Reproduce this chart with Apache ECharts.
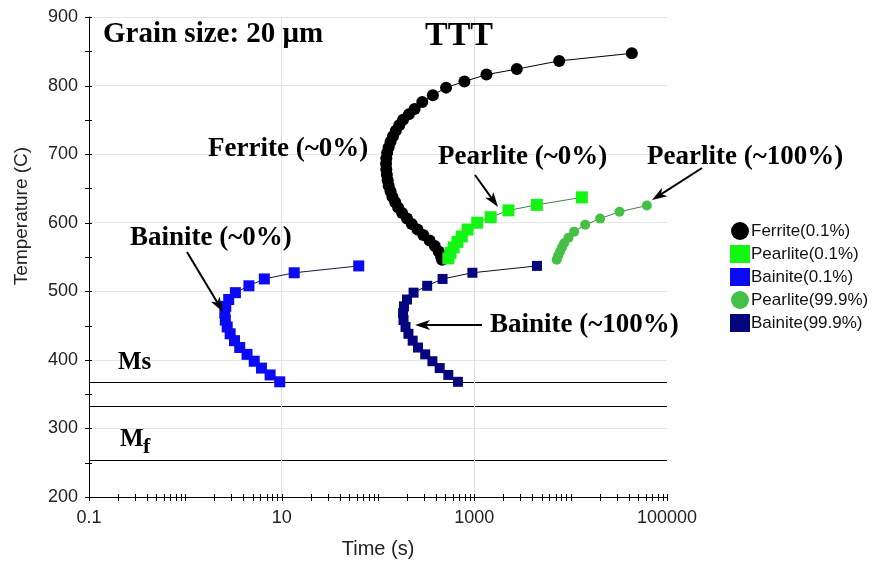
<!DOCTYPE html>
<html lang="en">
<head>
    <meta charset="utf-8">
    <title>TTT</title>
    <script src="https://cdn.jsdelivr.net/npm/echarts@6/dist/echarts.min.js"></script>
    <style>
        html, body { margin: 0; padding: 0; background: #fff; }
        #main { width: 877px; height: 564px; }
    </style>
</head>
<body>
<div id="main"></div>
<script>
    // times in s, temperatures in C
    var ferriteTime = [43150, 7600, 2760, 1337, 789, 509, 371, 288, 240, 209, 182, 166, 153, 143, 135, 129, 124.5,
        122, 121.3, 122, 123.6, 126, 129, 135, 141, 151, 162, 178, 200, 224, 257, 295, 343, 389, 427, 452, 462];
    var ferriteTemp = [847, 836, 824, 816, 806, 797, 786, 776, 766, 758, 750, 742, 734, 726, 718, 710, 702,
        694, 686, 678, 670, 662, 654, 646, 638, 630, 622, 614, 606, 598, 590, 582, 574, 566, 558, 550, 546];

    var pearlite1Time = [537, 566, 610, 668, 741, 851, 1072, 1479, 2259, 4457, 13060];
    var pearlite1Temp = [548, 556, 564, 572, 580, 590, 600, 608, 618, 626, 637];

    var bainite1Time = [9.55, 7.59, 6.17, 5.19, 4.37, 3.67, 3.24, 2.92, 2.72, 2.60, 2.57, 2.63, 2.82, 3.31, 4.57, 6.61, 13.5, 63.1];
    var bainite1Temp = [368, 378, 388, 398, 408, 418, 428, 438, 448, 458, 468, 478, 488, 498, 508, 518, 527, 537];

    var pearlite99Time = [7161, 7413, 7762, 8128, 8551, 9484, 10864, 14158, 20230, 32140, 61800];
    var pearlite99Temp = [546, 552, 558, 564, 570, 578, 587, 597, 606, 616, 625];

    var bainite99Time = [676, 537, 437, 367, 309, 260, 229, 207, 193, 184, 182, 186, 200, 234, 324, 468, 955, 4467];
    var bainite99Temp = [368, 378, 388, 398, 408, 418, 428, 438, 448, 458, 468, 478, 488, 498, 508, 518, 527, 537];

    var msLines = [368, 333, 254];     // Ms / Mf lines
    var gridX = [10, 1000];            // vertical grid lines
    var xTickLabels = ['0.1', '', '10', '', '1000', '', '100000'];

    function pairs(t, T) {
        var out = [];
        for (var i = 0; i < t.length; i++) out.push([t[i], T[i]]);
        return out;
    }

    // tick positions for the crossing tick marks
    var xTickValues = [];
    for (var e = -1; e < 5; e++) {
        for (var m = 1; m < 10; m++) xTickValues.push(Number((m * Math.pow(10, e)).toPrecision(3)));
    }
    xTickValues.push(100000);
    var yTickValues = [];
    for (var y = 200; y <= 900; y += 50) yTickValues.push(y);

    function arrow(x1, y1, x2, y2) {
        var a = Math.atan2(y2 - y1, x2 - x1), L = 15, W = 5;
        var c = Math.cos(a), s = Math.sin(a);
        var bx = x2 - L * c, by = y2 - L * s;
        var nx = -s, ny = c;
        return [
            { type: 'line', z: 100, shape: { x1: x1, y1: y1, x2: bx + 4 * c, y2: by + 4 * s }, style: { stroke: '#000', lineWidth: 2 } },
            { type: 'polygon', z: 100, shape: { points: [[x2, y2], [bx + nx * W, by + ny * W], [bx + 4 * c, by + 4 * s], [bx - nx * W, by - ny * W]] }, style: { fill: '#000' } }
        ];
    }

    var serifBold = 'bold 27px "Liberation Serif", "Times New Roman", serif';
    var graphics = [
        { type: 'text', z: 100, x: 103, y: 35, style: { text: 'Grain size: 20 μm', font: 'bold 29px "Liberation Serif"', fill: '#000', verticalAlign: 'middle' } },
        { type: 'text', z: 100, x: 459, y: 36, style: { text: 'TTT', font: 'bold 34px "Liberation Serif"', fill: '#000', align: 'center', verticalAlign: 'middle' } },
        { type: 'text', z: 100, x: 208, y: 149, style: { text: 'Ferrite (~0%)', font: serifBold, fill: '#000', verticalAlign: 'middle' } },
        { type: 'text', z: 100, x: 438, y: 157, style: { text: 'Pearlite (~0%)', font: serifBold, fill: '#000', verticalAlign: 'middle' } },
        { type: 'text', z: 100, x: 647, y: 157, style: { text: 'Pearlite (~100%)', font: serifBold, fill: '#000', verticalAlign: 'middle' } },
        { type: 'text', z: 100, x: 130, y: 238, style: { text: 'Bainite (~0%)', font: serifBold, fill: '#000', verticalAlign: 'middle' } },
        { type: 'text', z: 100, x: 490, y: 325, style: { text: 'Bainite (~100%)', font: serifBold, fill: '#000', verticalAlign: 'middle' } },
        { type: 'text', z: 100, x: 118, y: 363, style: { text: 'Ms', font: 'bold 25px "Liberation Serif"', fill: '#000', verticalAlign: 'middle' } },
        { type: 'text', z: 100, x: 120, y: 440, style: { text: 'M', font: 'bold 25px "Liberation Serif"', fill: '#000', verticalAlign: 'middle' } },
        { type: 'text', z: 100, x: 143, y: 447, style: { text: 'f', font: 'bold 22px "Liberation Serif"', fill: '#000', verticalAlign: 'middle' } },
        { type: 'text', z: 100, x: 22, y: 216, rotation: Math.PI / 2, style: { text: 'Temperature (C)', font: '19px "Liberation Sans"', fill: '#222', align: 'center', verticalAlign: 'middle' } }
    ];
    graphics = graphics.concat(arrow(187, 252, 223, 312));
    graphics = graphics.concat(arrow(482, 325, 415, 325));
    graphics = graphics.concat(arrow(475, 175, 498, 207));
    graphics = graphics.concat(arrow(702, 168, 652, 200));

    var myChart = echarts.init(document.getElementById('main'));

    var option = {
        animation: false,
        backgroundColor: '#fff',
        grid: { left: 89, right: 210, top: 17, bottom: 63 },
        legend: {
            orient: 'vertical',
            left: 730,
            top: 222,
            padding: 0,
            itemWidth: 20,
            itemHeight: 18,
            itemGap: 5,
            textStyle: { fontSize: 17, color: '#111', fontFamily: 'Liberation Sans', padding: [0, 0, 0, -4] },
            data: [
                { name: 'Ferrite(0.1%)', icon: 'circle' },
                { name: 'Pearlite(0.1%)', icon: 'rect' },
                { name: 'Bainite(0.1%)', icon: 'rect' },
                { name: 'Pearlite(99.9%)', icon: 'circle' },
                { name: 'Bainite(99.9%)', icon: 'rect' }
            ]
        },
        xAxis: {
            type: 'log',
            logBase: 10,
            min: 0.1,
            max: 100000,
            splitNumber: 6,
            name: 'Time (s)',
            nameLocation: 'middle',
            nameGap: 42,
            nameTextStyle: { fontSize: 20, color: '#222', fontFamily: 'Liberation Sans' },
            axisLine: { lineStyle: { color: '#000', width: 1 } },
            axisTick: { show: false },
            splitLine: { show: false },
            axisLabel: {
                margin: 12,
                fontSize: 18,
                color: '#222',
                fontFamily: 'Liberation Sans',
                formatter: function (v) {
                    var k = Math.round(Math.log(v) / Math.LN10) + 1;
                    return xTickLabels[k] || '';
                }
            }
        },
        yAxis: {
            type: 'value',
            min: 200,
            max: 900,
            interval: 100,
            axisLine: { show: true, lineStyle: { color: '#000', width: 1 } },
            axisTick: { show: false },
            splitLine: { lineStyle: { color: '#e6e6e6' } },
            axisLabel: { margin: 11, fontSize: 18, color: '#222', fontFamily: 'Liberation Sans' }
        },
        graphic: graphics,
        series: [
            {
                // reference lines: Ms, Mf and the two vertical grid lines
                type: 'line', name: 'refs', data: [], z: 1, silent: true,
                markLine: {
                    z: 1,
                    symbol: 'none', silent: true, animation: false,
                    label: { show: false },
                    data: msLines.map(function (v) { return { yAxis: v, lineStyle: { color: '#000', width: 1, type: 'solid' } }; })
                        .concat(gridX.map(function (v) { return { xAxis: v, lineStyle: { color: '#e0e0e0', width: 1, type: 'solid' } }; }))
                }
            },
            {
                name: 'Ferrite(0.1%)', type: 'line', data: pairs(ferriteTime, ferriteTemp),
                symbol: 'circle', symbolSize: 12,
                itemStyle: { color: '#000' }, lineStyle: { color: '#000', width: 1 }
            },
            {
                name: 'Pearlite(0.1%)', type: 'line', data: pairs(pearlite1Time, pearlite1Temp),
                symbol: 'rect', symbolSize: 12,
                itemStyle: { color: '#14f514' }, lineStyle: { color: '#4d7a4d', width: 1 }
            },
            {
                name: 'Bainite(0.1%)', type: 'line', data: pairs(bainite1Time, bainite1Temp),
                symbol: 'rect', symbolSize: 11,
                itemStyle: { color: '#0a0af5' }, lineStyle: { color: '#1a1a3a', width: 1 }
            },
            {
                name: 'Pearlite(99.9%)', type: 'line', data: pairs(pearlite99Time, pearlite99Temp),
                symbol: 'circle', symbolSize: 10,
                itemStyle: { color: '#44c044' }, lineStyle: { color: '#4d7a4d', width: 1 }
            },
            {
                name: 'Bainite(99.9%)', type: 'line', data: pairs(bainite99Time, bainite99Temp),
                symbol: 'rect', symbolSize: 10,
                itemStyle: { color: '#050580' }, lineStyle: { color: '#111', width: 1 }
            },
            {
                type: 'custom', name: 'xticks', silent: true, z: 5,
                data: xTickValues.map(function (v) { return [v, 200]; }),
                renderItem: function (params, api) {
                    var p = api.coord([api.value(0), api.value(1)]);
                    var x = Math.round(p[0]) + 0.5;
                    return { type: 'line', shape: { x1: x, y1: p[1] - 3, x2: x, y2: p[1] + 4 }, style: { stroke: '#000', lineWidth: 1 } };
                }
            },
            {
                type: 'custom', name: 'yticks', silent: true, z: 5,
                data: yTickValues.map(function (v) { return [0.1, v]; }),
                renderItem: function (params, api) {
                    var p = api.coord([api.value(0), api.value(1)]);
                    var y = Math.round(p[1]) + 0.5;
                    return { type: 'line', shape: { x1: p[0] - 4, y1: y, x2: p[0] + 3, y2: y }, style: { stroke: '#000', lineWidth: 1 } };
                }
            }
        ]
    };
    myChart.setOption(option);
</script>
</body>
</html>
